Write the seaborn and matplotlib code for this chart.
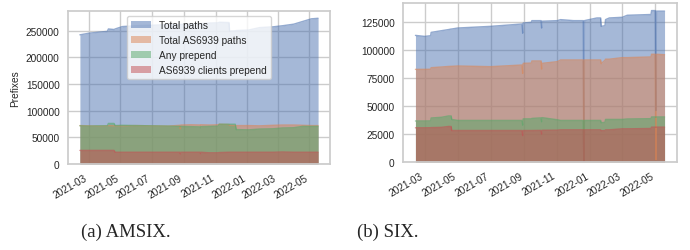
import pandas as pd
import matplotlib
matplotlib.use("Agg")
import matplotlib.pyplot as plt
import matplotlib.dates as mdates
import seaborn as sns

# ---------------- data ----------------
series_names = ["Total paths", "Total AS6939 paths", "Any prepend", "AS6939 clients prepend"]

amsix_dates = ["2021-02-12", "2021-03-01", "2021-03-20", "2021-04-06", "2021-04-08", "2021-04-19",
               "2021-04-21", "2021-05-05", "2021-06-01", "2021-07-01", "2021-08-01", "2021-08-24",
               "2021-08-25", "2021-08-26", "2021-09-15", "2021-10-02", "2021-10-03", "2021-10-04",
               "2021-10-20", "2021-11-06", "2021-11-08", "2021-11-27", "2021-11-28", "2021-12-09",
               "2021-12-11", "2022-01-04", "2022-01-25", "2022-02-20", "2022-03-10", "2022-04-01",
               "2022-04-18", "2022-05-05", "2022-05-18"]
amsix_total = [242000, 245000, 247000, 248500, 253000, 252000, 253000, 257500, 259000, 260000,
               261000, 261500, 261500, 261500, 262000, 263000, 263000, 263000, 264000, 264500,
               265500, 265000, 249000, 249500, 250000, 251000, 255500, 257000, 259000, 262000,
               267000, 272000, 273000]
amsix_as6939 = [72000, 71500, 71000, 71500, 72000, 71500, 71500, 71500, 72000, 71500,
                71000, 72500, 66000, 73000, 73500, 73000, 72000, 73500, 73000, 73500,
                74500, 74000, 72500, 72000, 72000, 72000, 71500, 72500, 73000, 73000,
                72500, 72000, 72000]
amsix_any = [71500, 71000, 71500, 71500, 76000, 76000, 72000, 72500, 72000, 71500,
             71000, 70500, 70000, 70500, 70000, 69500, 68000, 70000, 70500, 71000,
             74500, 74500, 74500, 74500, 64500, 64000, 65500, 66000, 67500, 68000,
             70500, 70500, 70500]
amsix_clients = [25500, 25500, 25500, 25500, 25500, 25500, 22000, 22000, 22000, 22000,
                 22000, 22000, 19000, 22000, 22000, 22000, 19500, 22000, 21000, 21000,
                 21500, 22000, 22000, 22000, 22000, 22000, 22000, 22000, 22500, 22000,
                 22000, 22000, 22000]

six_dates = ["2021-02-12", "2021-03-01", "2021-03-12", "2021-03-13", "2021-04-01", "2021-04-14",
             "2021-04-19", "2021-04-20", "2021-05-01", "2021-07-01", "2021-08-28", "2021-08-29",
             "2021-08-30", "2021-09-14", "2021-09-15", "2021-10-02", "2021-10-03", "2021-10-04",
             "2021-11-01", "2021-11-07", "2021-12-01", "2021-12-19", "2021-12-20", "2021-12-21",
             "2022-01-13", "2022-01-20", "2022-01-21", "2022-01-28", "2022-01-29", "2022-02-05",
             "2022-03-01", "2022-03-10", "2022-04-23", "2022-04-24", "2022-05-01", "2022-05-02",
             "2022-05-03", "2022-05-18"]
six_total = [113300, 112400, 113000, 116000, 117500, 118500, 119000, 119000, 119900, 121400,
             123500, 115300, 124400, 125000, 126500, 126500, 119900, 126000, 126500, 127400,
             126500, 126500, 500, 126500, 128900, 128900, 121400, 122000, 127400, 128900,
             129500, 131300, 132000, 135500, 135500, 46000, 135000, 135000]
six_as6939 = [82900, 82900, 83000, 84400, 85000, 85500, 85600, 85600, 85900, 85300,
              86800, 79300, 88300, 88500, 90400, 90400, 83200, 88300, 89800, 91300,
              91300, 91300, 1000, 91300, 91300, 91300, 88000, 91000, 92000, 92000,
              93400, 93400, 94000, 96400, 96400, 2000, 96400, 96000]
six_any = [36700, 36700, 36800, 39400, 40000, 41200, 41200, 38100, 37200, 37200,
           37200, 33000, 38600, 38600, 39000, 39500, 36000, 39700, 37800, 37200,
           37200, 37200, 1000, 37200, 37200, 37200, 35100, 35500, 38100, 38100,
           38100, 38500, 38800, 40300, 40300, 40000, 40300, 40300]
six_clients = [30600, 30600, 30700, 30800, 31000, 31800, 31800, 28200, 28200, 28200,
               28200, 23700, 28200, 28200, 28200, 28300, 25000, 28400, 28500, 28800,
               28800, 28800, 500, 28800, 28800, 28800, 28000, 28200, 28800, 28800,
               29700, 29700, 30000, 31200, 31200, 31000, 31200, 31200]

captions = ["(a) AMSIX.", "(b) SIX."]

# ---------------- style ----------------
sns.set_theme(style="whitegrid")
plt.rcParams["font.family"] = ["Liberation Sans", "DejaVu Sans"]
FS = 7.3
palette = sns.color_palette("deep", 4)

fig = plt.figure(figsize=(6.9, 2.51), dpi=100)
ax1 = fig.add_axes([68 / 690, 1 - 165 / 251, 262 / 690, 153 / 251])
ax2 = fig.add_axes([403 / 690, 1 - 163 / 251, 274 / 690, 159 / 251])


def draw(ax, dates, values):
    df = pd.DataFrame({"date": pd.to_datetime(dates)})
    for n, v in zip(series_names, values):
        df[n] = v
    long = df.melt(id_vars="date", var_name="series", value_name="Prefixes")
    sns.lineplot(data=long, x="date", y="Prefixes", hue="series", hue_order=series_names,
                 palette=palette, alpha=0.6, lw=1.0, errorbar=None, legend=False, ax=ax)
    for n, c in zip(series_names, palette):
        ax.fill_between(df["date"], df[n], color=c, alpha=0.5, lw=0, label=n)
    ax.set_ylim(bottom=0)
    ax.xaxis.set_major_locator(mdates.MonthLocator(bymonth=[1, 3, 5, 7, 9, 11]))
    ax.xaxis.set_major_formatter(mdates.DateFormatter("%Y-%m"))
    ax.tick_params(labelsize=FS, length=0, pad=6)
    for lab in ax.get_xticklabels():
        lab.set_rotation(30)
        lab.set_ha("right")
    ax.set_xlabel("")


draw(ax1, amsix_dates, [amsix_total, amsix_as6939, amsix_any, amsix_clients])
draw(ax2, six_dates, [six_total, six_as6939, six_any, six_clients])

ax1.set_ylabel("Prefixes", fontsize=FS, labelpad=4)
ax2.set_ylabel("")
ax1.legend(loc="upper center", fontsize=FS)

fig.text(126 / 690, 1 - 232 / 251, captions[0], ha="center", va="center",
         family="Liberation Serif", fontsize=13.5)
fig.text(388 / 690, 1 - 232 / 251, captions[1], ha="center", va="center",
         family="Liberation Serif", fontsize=13.5)

fig.savefig("out.png", dpi=100)
